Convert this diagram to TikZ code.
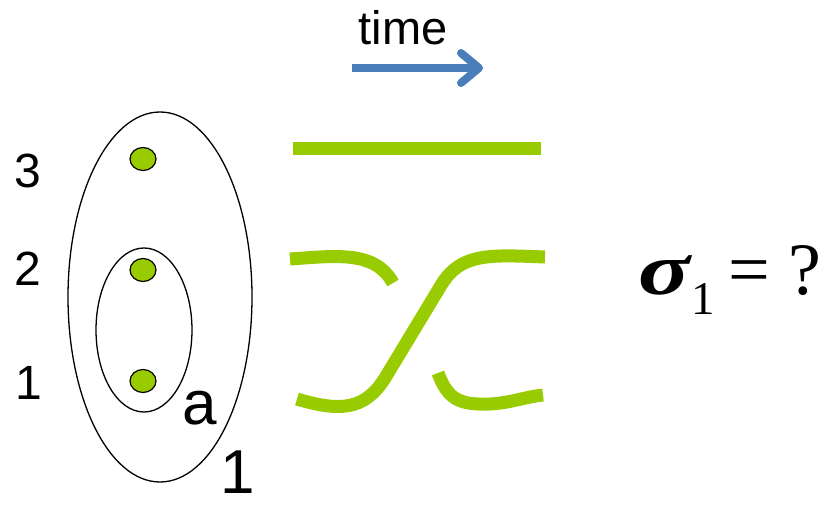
\documentclass[tikz,border=0pt]{standalone}
\usepackage{fontspec}
\setmainfont{Liberation Sans}
\newfontfamily\serifeq{Liberation Serif}
\usetikzlibrary{shapes.geometric,arrows.meta}
\definecolor{strand}{HTML}{99CC00}
\definecolor{timeblue}{HTML}{4A7EBB}
\tikzset{
  lbl/.style={inner sep=0pt, font=\fontsize{48}{48}\selectfont},
  biglbl/.style={inner sep=0pt, font=\fontsize{62}{62}\selectfont},
  dot/.style={ellipse, draw=black, line width=1.2pt, fill=strand, minimum width=26pt, minimum height=23pt, inner sep=0pt},
  loop/.style={draw=black, line width=1.3pt},
  braid/.style={draw=strand, line width=13pt},
}
\begin{document}
\begin{tikzpicture}[x=1pt,y=-1pt]
\useasboundingbox (0,0) rectangle (839,505);
% time arrow
\node[inner sep=0pt, font=\fontsize{47}{47}\selectfont] (time) at (403,28) {time};
\coordinate (ta) at (352,68);
\coordinate (tb) at (483,68);
\draw[timeblue, line width=8pt, -{Straight Barb[round,length=18pt,width=30pt]}] (ta) -- (tb);
% loops
\draw[loop] (160,297) ellipse [x radius=92, y radius=185];
\draw[loop] (144,330) ellipse [x radius=48, y radius=82];
% points
\node[dot] (p3) at (143,159) {};
\node[dot] (p2) at (143,270) {};
\node[dot] (p1) at (143,381) {};
% labels
\node[lbl] (l3) at (28,171) {3};
\node[lbl] (l2) at (28,269) {2};
\node[lbl] (l1) at (29,383) {1};
\node[biglbl] (la) at (200,408) {a};
\node[biglbl] (lo) at (238,472) {1};
% strands
\coordinate (s3a) at (293,149);
\coordinate (s3b) at (541,149);
\draw[braid] (s3a) -- (s3b);
\draw[braid] (297,399) .. controls (340,412) and (365,410) .. (385,378)
  -- (440,287) .. controls (460,252) and (490,255) .. (545,257);
\draw[braid] (290,259) .. controls (335,256) and (375,250) .. (393,283);
\draw[braid] (438,373) .. controls (448,400) and (460,405) .. (490,404)
  .. controls (510,403) and (525,397) .. (543,395);
% equation
\node[inner sep=0pt, anchor=base west, font=\serifeq\fontsize{74}{74}\selectfont] (eq) at (638,295)
  {\scalebox{1.3}[1]{\textbf{\textit{σ}}}\kern-1pt\raisebox{-20pt}{\fontsize{47}{47}\selectfont 1}\kern14pt=\kern18pt?};
\end{tikzpicture}
\end{document}
